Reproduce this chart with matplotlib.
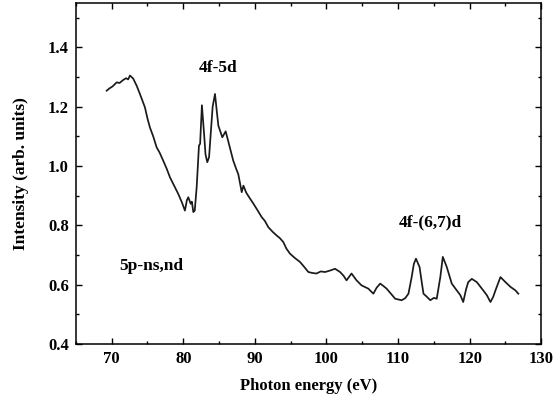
import matplotlib
matplotlib.use('Agg')
import matplotlib.pyplot as plt
from matplotlib.ticker import MultipleLocator

plt.rcParams['font.family'] = 'Liberation Serif'
plt.rcParams['font.weight'] = 'bold'

# photon energy (eV)
energy = [69.3, 69.7, 70.1, 70.7, 71.1, 71.6, 72.0, 72.3, 72.55, 73.0,
          73.5, 73.94, 74.3, 74.64, 75.0, 75.34, 75.8, 76.28, 76.7, 77.2,
          77.7, 78.14, 78.7, 79.3, 79.8, 80.23, 80.5, 80.7, 81.03, 81.2,
          81.4, 81.6, 81.87, 82.19, 82.35, 82.6, 82.9, 83.1, 83.35, 83.6,
          84.1, 84.43, 84.7, 84.9, 85.45, 85.92, 86.5, 86.98, 87.4, 87.68,
          88.16, 88.4, 88.8, 89.2, 89.8, 90.4, 90.95, 91.4, 91.88, 92.5,
          93.05, 93.5, 93.97, 94.4, 94.9, 95.6, 96.3, 96.9, 97.47, 98.0,
          98.6, 99.2, 99.8, 100.5, 101.2, 101.9, 102.4, 102.8, 103.5, 104.2,
          104.9, 105.85, 106.55, 107.0, 107.5, 108.0, 108.4, 109.0, 109.6, 110.5,
          111.0, 111.45, 111.9, 112.2, 112.5, 113.0, 113.3, 113.55, 114.0, 114.5,
          115.0, 115.4, 115.9, 116.25, 116.8, 117.5, 118.2, 118.7, 119.1, 119.5,
          119.8, 120.3, 121.0, 121.9, 122.4, 122.9, 123.3, 123.6, 124.3, 125.0,
          125.7, 126.4, 126.8]

intensity = [1.254, 1.262, 1.268, 1.282, 1.280, 1.290, 1.296, 1.292, 1.305, 1.295,
             1.270, 1.243, 1.220, 1.198, 1.160, 1.130, 1.100, 1.063, 1.045, 1.018,
             0.990, 0.962, 0.935, 0.906, 0.878, 0.850, 0.885, 0.895, 0.873, 0.880,
             0.845, 0.850, 0.929, 1.069, 1.075, 1.205, 1.110, 1.040, 1.013, 1.030,
             1.200, 1.243, 1.180, 1.136, 1.097, 1.117, 1.063, 1.018, 0.990, 0.973,
             0.912, 0.934, 0.910, 0.895, 0.873, 0.850, 0.828, 0.815, 0.794, 0.778,
             0.766, 0.757, 0.744, 0.722, 0.705, 0.690, 0.677, 0.660, 0.643, 0.640,
             0.638, 0.645, 0.643, 0.648, 0.654, 0.643, 0.630, 0.615, 0.638, 0.615,
             0.598, 0.587, 0.570, 0.590, 0.604, 0.595, 0.587, 0.570, 0.553, 0.548,
             0.555, 0.570, 0.626, 0.670, 0.688, 0.660, 0.610, 0.570, 0.560, 0.548,
             0.556, 0.553, 0.626, 0.694, 0.660, 0.604, 0.581, 0.565, 0.542, 0.585,
             0.609, 0.620, 0.609, 0.581, 0.565, 0.542, 0.560, 0.581, 0.626, 0.609,
             0.593, 0.581, 0.570]

fig = plt.figure(figsize=(5.54, 4.03), dpi=100)
ax = fig.add_axes([0.137, 0.146, 0.840, 0.847])

ax.plot(energy, intensity, color='#1a1a1a', linewidth=1.25)

ax.set_xlim(65, 130)
ax.set_ylim(0.4, 1.55)
ax.xaxis.set_major_locator(MultipleLocator(10))
ax.xaxis.set_minor_locator(MultipleLocator(5))
ax.yaxis.set_major_locator(MultipleLocator(0.2))
ax.yaxis.set_minor_locator(MultipleLocator(0.1))
ax.tick_params(which='both', direction='in', top=True, right=True, width=1.0, labelsize=12)
ax.tick_params(which='major', length=4, pad=5)
ax.tick_params(which='minor', length=2)
ax.set_xticks([70, 80, 90, 100, 110, 120, 130])
ax.set_yticks([0.4, 0.6, 0.8, 1.0, 1.2, 1.4])
ax.set_yticklabels(['0.4', '0.6', '0.8', '1.0', '1.2', '1.4'])
for s in ax.spines.values():
    s.set_linewidth(1.1)

ax.set_xlabel('Photon energy (eV)', fontsize=12, fontweight='bold', labelpad=8)
ax.set_ylabel('Intensity (arb. units)', fontsize=12.5, fontweight='bold', labelpad=14)

ax.text(84.85, 1.33, '4f-5d', fontsize=12.5, fontweight='bold', ha='center', va='center')
ax.text(114.5, 0.81, '4f-(6,7)d', fontsize=12.5, fontweight='bold', ha='center', va='center')
ax.text(75.6, 0.665, '5p-ns,nd', fontsize=12.5, fontweight='bold', ha='center', va='center')

fig.savefig('out.png', dpi=100)
